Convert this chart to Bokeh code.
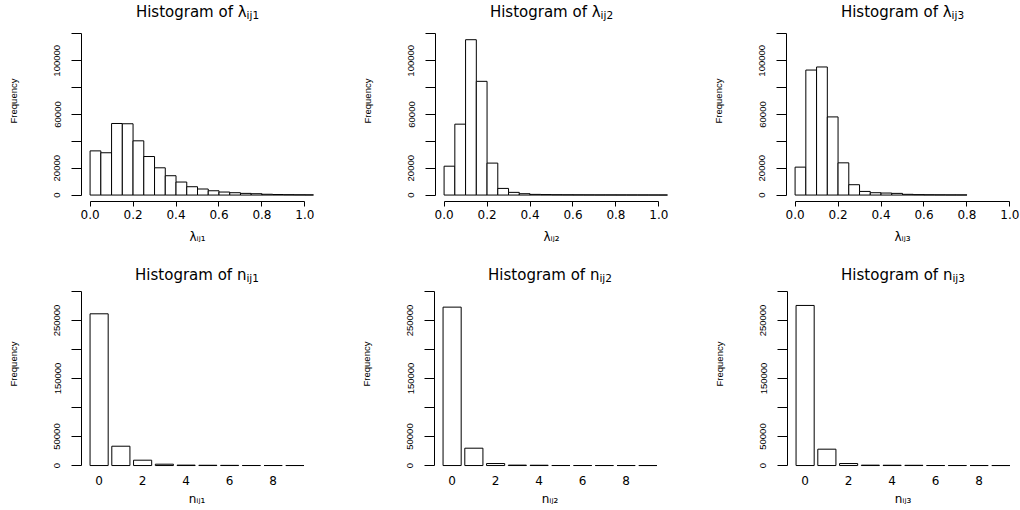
from bokeh.plotting import figure
from bokeh.layouts import row, column
from bokeh.models import Range1d, FixedTicker, NumeralTickFormatter
from bokeh.core.properties import value
from bokeh.embed import file_html
from bokeh.resources import INLINE

# ---------------- data ----------------
lam_bin_edges = [0.00, 0.05, 0.10, 0.15, 0.20, 0.25, 0.30, 0.35, 0.40, 0.45, 0.50,
                 0.55, 0.60, 0.65, 0.70, 0.75, 0.80, 0.85, 0.90, 0.95, 1.00, 1.05]
lam1_counts = [32900, 31500, 53300, 53100, 40400, 28700, 20300, 14400, 9700, 6200, 4500,
               3200, 2250, 1750, 1250, 1000, 600, 400, 280, 200, 150]
lam2_counts = [21500, 52800, 115700, 84700, 23800, 4950, 2000, 1000, 500, 350, 250,
               200, 160, 130, 110, 100, 90, 80, 70, 60, 50]
lam3_counts = [20800, 93100, 95400, 58200, 24000, 7700, 2700, 1750, 1500, 1250, 550,
               320, 220, 160, 120, 100]

n_values = [0, 1, 2, 3, 4, 5, 6, 7, 8, 9]
n1_counts = [261500, 33300, 9200, 2300, 700, 450, 300, 80, 40, 20]
n2_counts = [273000, 29900, 3450, 700, 500, 80, 40, 20, 10, 5]
n3_counts = [275900, 28200, 3450, 650, 500, 400, 50, 20, 10, 5]

lam_x_ticks = [0.0, 0.2, 0.4, 0.6, 0.8, 1.0]
lam_y_labeled = [0, 20000, 60000, 100000]
lam_y_unlabeled = [40000, 80000, 120000]
n_x_ticks = [0, 2, 4, 6, 8]
n_y_labeled = [0, 50000, 150000, 250000]
n_y_unlabeled = [100000, 200000, 300000]

lam_xlim = [0.0, 1.0]
lam_ylim = [0, 120000]
n_xlim = [-0.81, 9.81]   # barplot extent in category units
n_ylim = [0, 300000]
bar_width = 0.833

top_titles = [("Histogram of \u03bb", "ij1"), ("Histogram of \u03bb", "ij2"), ("Histogram of \u03bb", "ij3")]
bot_titles = [("Histogram of n", "ij1"), ("Histogram of n", "ij2"), ("Histogram of n", "ij3")]
top_xlabs = ["\u03bb\u1d62\u2c7c\u2081", "\u03bb\u1d62\u2c7c\u2082", "\u03bb\u1d62\u2c7c\u2083"]
bot_xlabs = ["n\u1d62\u2c7c\u2081", "n\u1d62\u2c7c\u2082", "n\u1d62\u2c7c\u2083"]
ylab = "Frequency"

FONT_H = "DejaVu Sans"
FONT_V = "Liberation Sans"

# DejaVu Sans advance widths (em) used to centre title + subscript as a whole
_W = {"H": .752, "i": .278, "s": .521, "t": .392, "o": .612, "g": .635, "r": .411,
      "a": .613, "m": .974, " ": .318, "f": .352, "\u03bb": .592, "n": .634, "j": .278,
      "1": .636, "2": .636, "3": .636}


def text_w(s, size):
    return sum(_W.get(c, .6) for c in s) * size


def make_panel(width, height, L, R, T, B, xlim, ylim, nom_fw, nom_fh, ext_top):
    """Frame reaches the top of the figure; the R plot region (xlim/ylim +4%)
    occupies nom_fw x nom_fh pixels, starting ext_top px below the figure top."""
    fw = width - L - R
    fh = height - T - B
    xpad = 0.04 * (xlim[1] - xlim[0])
    ypad = 0.04 * (ylim[1] - ylim[0])
    x0 = xlim[0] - xpad
    x_per_px = (xlim[1] - xlim[0] + 2 * xpad) / nom_fw
    y0 = ylim[0] - ypad
    y_per_px = (ylim[1] - ylim[0] + 2 * ypad) / nom_fh
    p = figure(width=width, height=height, title=None,
               x_range=Range1d(x0, x0 + fw * x_per_px),
               y_range=Range1d(y0, y0 + fh * y_per_px),
               output_backend="svg", toolbar_location=None,
               min_border_left=L, min_border_right=R, min_border_top=T, min_border_bottom=B)
    p.xgrid.visible = False
    p.ygrid.visible = False
    p.outline_line_color = None
    p.background_fill_color = "white"
    p.border_fill_color = "white"
    return p


def style_yaxis(p, labeled, unlabeled, bounds):
    ya = p.yaxis[0]
    ya.bounds = bounds
    ya.ticker = FixedTicker(ticks=labeled, minor_ticks=unlabeled)
    ya.formatter = NumeralTickFormatter(format="0")
    ya.axis_line_color = "black"
    ya.axis_line_width = 1
    ya.major_tick_in = 0
    ya.major_tick_out = 10
    ya.minor_tick_in = 0
    ya.minor_tick_out = 10
    ya.major_tick_line_color = "black"
    ya.minor_tick_line_color = "black"
    ya.major_label_orientation = "vertical"
    ya.major_label_standoff = 11
    ya.major_label_text_font = FONT_V
    ya.major_label_text_font_size = "9.5px"
    ya.major_label_text_color = "black"
    ya.axis_label = ylab
    ya.axis_label_text_font = FONT_V
    ya.axis_label_text_font_size = "9.5px"
    ya.axis_label_text_font_style = "normal"
    ya.axis_label_text_color = "black"
    ya.axis_label_standoff = 33


def style_xlabels(xa, label, standoff):
    xa.major_label_standoff = 3
    xa.major_label_text_font = FONT_H
    xa.major_label_text_font_size = "12px"
    xa.major_label_text_color = "black"
    xa.axis_label = label
    xa.axis_label_text_font = FONT_H
    xa.axis_label_text_font_size = "12px"
    xa.axis_label_text_font_style = "normal"
    xa.axis_label_text_color = "black"
    xa.axis_label_standoff = standoff


def add_title(p, xc, y_anchor, main, sub, dy):
    size_m, size_s, drop = 15, 10.5, 2.5
    split = (text_w(main, size_m) - text_w(sub, size_s)) / 2.0
    p.text(x=[xc], y=[y_anchor], text=[main], x_offset=split, y_offset=dy,
           text_align="right", text_baseline="alphabetic", text_color="black",
           text_font=value(FONT_H), text_font_size=value(f"{size_m}px"))
    p.text(x=[xc], y=[y_anchor], text=[sub], x_offset=split, y_offset=dy + drop,
           text_align="left", text_baseline="alphabetic", text_color="black",
           text_font=value(FONT_H), text_font_size=value(f"{size_s}px"))


# ---------------- layout geometry (px) ----------------
COL_W = 340
TOP_H, BOT_H = 255, 255
top_LR = [(81, 27), (95, 13), (106, 2)]
bot_LR = [(81, 28), (94, 15), (107, 2)]
TOP_B, BOT_B = 54, 38
TOP_EXT, BOT_EXT = 27, 29          # gap between figure top and R plot region
TOP_FH, BOT_FH = 174, 188          # height of R plot region

top_counts = [lam1_counts, lam2_counts, lam3_counts]
bot_counts = [n1_counts, n2_counts, n3_counts]

top_figs = []
for i in range(3):
    L, R = top_LR[i]
    p = make_panel(COL_W, TOP_H, L, R, 0, TOP_B, lam_xlim, lam_ylim, 232, TOP_FH, TOP_EXT)
    cnt = top_counts[i]
    p.quad(left=lam_bin_edges[:len(cnt)], right=lam_bin_edges[1:len(cnt) + 1],
           bottom=0, top=cnt, fill_color="white", line_color="black", line_width=1)
    xa = p.xaxis[0]
    xa.bounds = (lam_xlim[0], lam_xlim[1])
    xa.ticker = FixedTicker(ticks=lam_x_ticks, minor_ticks=[])
    xa.formatter = NumeralTickFormatter(format="0.0")
    xa.axis_line_color = "black"
    xa.major_tick_in = 0
    xa.major_tick_out = 5
    xa.minor_tick_in = 0
    xa.minor_tick_out = 0
    xa.major_tick_line_color = "black"
    style_xlabels(xa, top_xlabs[i], 8)
    style_yaxis(p, lam_y_labeled, lam_y_unlabeled, (lam_ylim[0], lam_ylim[1]))
    ypad = 0.04 * (lam_ylim[1] - lam_ylim[0])
    add_title(p, (lam_xlim[0] + lam_xlim[1]) / 2, lam_ylim[1] + ypad,
              top_titles[i][0], top_titles[i][1], -15.5)
    top_figs.append(p)

bot_figs = []
for i in range(3):
    L, R = bot_LR[i]
    p = make_panel(COL_W, BOT_H, L, R, 0, BOT_B, n_xlim, n_ylim, 231, BOT_FH, BOT_EXT)
    p.x_range.start = n_xlim[0]
    p.x_range.end = n_xlim[0] + (COL_W - L - R) * (n_xlim[1] - n_xlim[0]) / 231
    p.vbar(x=n_values, width=bar_width, bottom=0, top=bot_counts[i],
           fill_color="white", line_color="black", line_width=1)
    xa = p.xaxis[0]
    xa.bounds = (n_xlim[0], n_xlim[1])
    xa.ticker = FixedTicker(ticks=n_x_ticks, minor_ticks=[])
    xa.axis_line_color = None
    xa.major_tick_line_color = None
    xa.minor_tick_line_color = None
    xa.major_tick_in = 0
    xa.major_tick_out = 0
    style_xlabels(xa, bot_xlabs[i], 4)
    style_yaxis(p, n_y_labeled, n_y_unlabeled, (n_ylim[0], n_ylim[1]))
    ypad = 0.04 * (n_ylim[1] - n_ylim[0])
    add_title(p, (n_xlim[0] + n_xlim[1]) / 2, n_ylim[1] + ypad,
              bot_titles[i][0], bot_titles[i][1], -9.5)
    bot_figs.append(p)

layout = column(row(*top_figs, spacing=0), row(*bot_figs, spacing=0), spacing=0)

with open("out.html", "w") as f:
    f.write(file_html(layout, INLINE))
